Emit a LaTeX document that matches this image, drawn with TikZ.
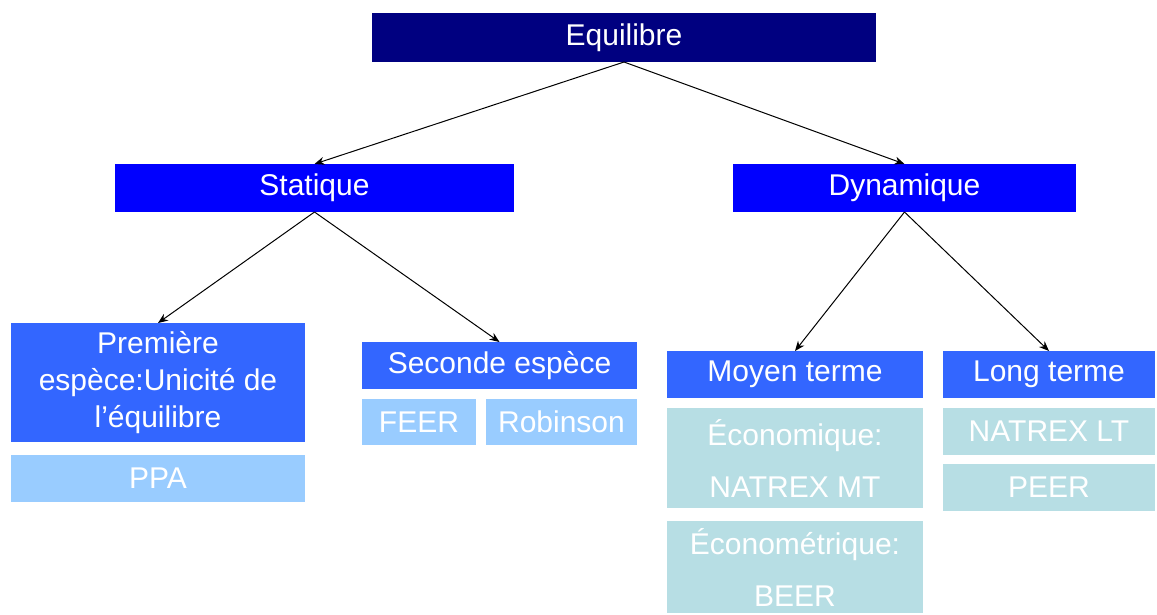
\documentclass[tikz,border=0pt]{standalone}
\usepackage{fontspec}
\setmainfont{Liberation Sans}
\usetikzlibrary{arrows.meta}
\definecolor{navyb}{RGB}{0,0,128}
\definecolor{pureb}{RGB}{0,0,255}
\definecolor{midb}{RGB}{51,102,255}
\definecolor{lightb}{RGB}{153,204,255}
\definecolor{tealb}{RGB}{183,222,228}
\begin{document}
\begin{tikzpicture}[x=1pt,y=-1pt,
  box/.style={rectangle,inner sep=0pt,outer sep=0pt,text=white,align=center,
    font=\fontsize{30}{37}\selectfont},
  lvl0/.style={box,fill=navyb},
  lvl1/.style={box,fill=pureb},
  lvl2/.style={box,fill=midb},
  leafa/.style={box,fill=lightb},
  leafb/.style={box,fill=tealb,font=\fontsize{30}{52}\selectfont},
  conn/.style={-{Stealth[length=10pt,width=8pt]},line width=1pt,black}]
\useasboundingbox (0,0) rectangle (1157,614);
\node[lvl0,minimum width=504pt,minimum height=49pt] (eq) at (624,37.5) {Equilibre};
\node[lvl1,minimum width=399pt,minimum height=48pt] (stat) at (314.5,188) {Statique};
\node[lvl1,minimum width=343pt,minimum height=48pt] (dyn) at (904.5,188) {Dynamique};
\node[lvl2,minimum width=294pt,minimum height=119pt] (prem) at (158,382.5) {Première\\espèce:Unicité de\\l’équilibre};
\node[leafa,minimum width=294pt,minimum height=47pt] (ppa) at (158,478.5) {PPA};
\node[lvl2,minimum width=275pt,minimum height=47pt] (sec) at (499.5,365.5) {Seconde espèce};
\node[leafa,minimum width=114pt,minimum height=46pt] (feer) at (419,422) {FEER};
\node[leafa,minimum width=151pt,minimum height=46pt] (rob) at (561.5,422) {Robinson};
\node[lvl2,minimum width=256pt,minimum height=47pt] (moy) at (795,374.5) {Moyen terme};
\node[leafb,minimum width=256pt,minimum height=100pt] (eco) at (795,458) {Économique:\\NATREX MT};
\node[leafb,minimum width=256pt,minimum height=92pt] (ecm) at (795,567) {Économétrique:\\BEER};
\node[lvl2,minimum width=212pt,minimum height=47pt] (long) at (1049,374.5) {Long terme};
\node[leafb,minimum width=212pt,minimum height=47pt] (nlt) at (1049,431.5) {NATREX LT};
\node[leafb,minimum width=212pt,minimum height=47pt] (peer) at (1049,487.5) {PEER};
\draw[conn] (eq.south) -- (stat.north);
\draw[conn] (eq.south) -- (dyn.north);
\draw[conn] (stat.south) -- (prem.north);
\draw[conn] (stat.south) -- (sec.north);
\draw[conn] (dyn.south) -- (moy.north);
\draw[conn] (dyn.south) -- (long.north);
\end{tikzpicture}
\end{document}
